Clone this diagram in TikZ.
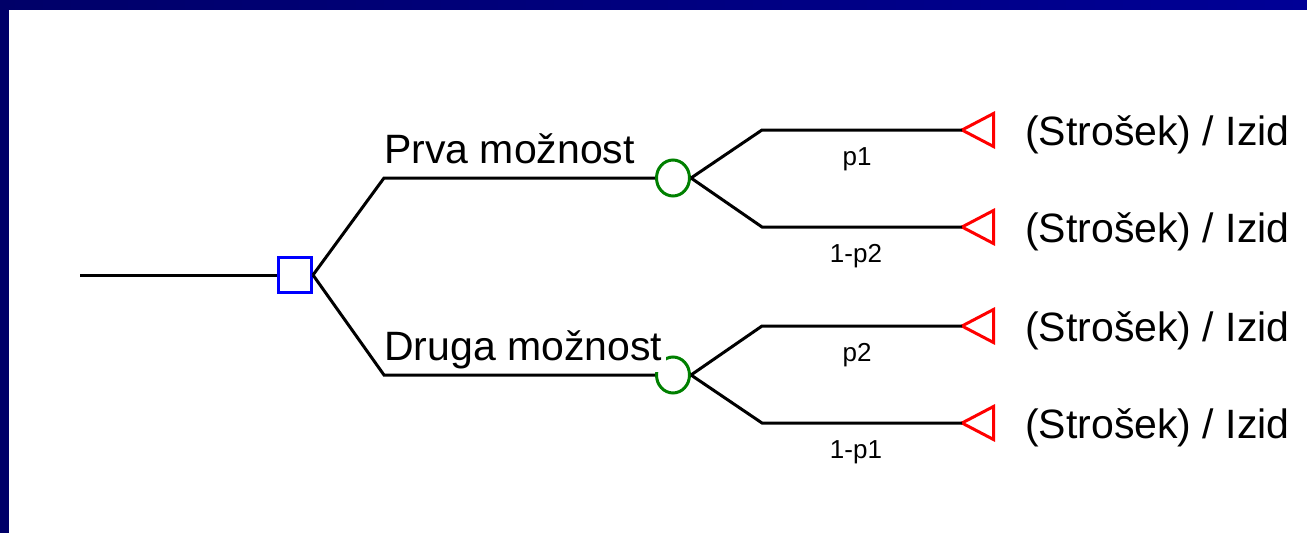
\documentclass[tikz,border=0pt]{standalone}
\usepackage{fontspec}
\setmainfont{Liberation Sans}
\usetikzlibrary{shapes.geometric}
\definecolor{barL}{RGB}{0,0,104}
\definecolor{barR}{RGB}{0,0,150}
\definecolor{dgreen}{RGB}{0,128,0}
\tikzset{
  conn/.style={draw=black, line width=3pt},
  decision/.style={draw=blue, line width=3pt, rectangle, minimum width=33pt, minimum height=35pt, inner sep=0pt},
  chance/.style={draw=dgreen, line width=3pt, ellipse, minimum width=33pt, minimum height=36pt, inner sep=0pt},
  term/.style={draw=red, line width=3pt, line join=miter},
  bigtxt/.style={font=\fontsize{41}{41}\selectfont, inner sep=0pt},
  smalltxt/.style={font=\fontsize{26}{26}\selectfont, inner sep=0pt},
}
\begin{document}
\begin{tikzpicture}[x=1pt, y=-1pt]
\useasboundingbox (0,0) rectangle (1307,533);
\fill[white] (0,0) rectangle (1307,533);
\shade[left color=barL, right color=barR] (0,0) rectangle (1307,9);
\fill[barL] (0,0) rectangle (9,533);

% nodes
\coordinate (start) at (80,275);
\node[decision] (d) at (295,275) {};
\node[chance] (c1) at (673,178) {};
\node[chance] (c2) at (673,375) {};

\coordinate (b1) at (384,178);
\coordinate (b2) at (384,375);
\coordinate (e1) at (762,130);
\coordinate (e2) at (762,227);
\coordinate (e3) at (762,326);
\coordinate (e4) at (762,423);
\coordinate (t1) at (962,130);
\coordinate (t2) at (962,227);
\coordinate (t3) at (962,326);
\coordinate (t4) at (962,423);

% terminal triangles
\foreach \t in {t1,t2,t3,t4}{
  \draw[term] (\t) -- ++(31.5,-16.5) -- ++(0,33) -- cycle;
}

% labels
\node[bigtxt, anchor=base west] (l1) at (384,163) {Prva možnost};
\node[bigtxt, anchor=base west, fill=white, inner xsep=4pt, inner ysep=3pt] (l2) at (380,360) {Druga možnost};

\node[smalltxt, anchor=base] (p1) at (857,165) {p1};
\node[smalltxt, anchor=base] (p2) at (856,262) {1-p2};
\node[smalltxt, anchor=base] (p3) at (857,361) {p2};
\node[smalltxt, anchor=base] (p4) at (856,458) {1-p1};

\node[bigtxt, anchor=base west] (o1) at (1025,145) {(Strošek) / Izid};
\node[bigtxt, anchor=base west] (o2) at (1025,242) {(Strošek) / Izid};
\node[bigtxt, anchor=base west] (o3) at (1025,341) {(Strošek) / Izid};
\node[bigtxt, anchor=base west] (o4) at (1025,438) {(Strošek) / Izid};

% connectors
\draw[conn] (start) -- (d.west);
\draw[conn] (d.east) -- (b1) -- (c1.west);
\draw[conn] (d.east) -- (b2) -- (c2.west);
\draw[conn] (c1.east) -- (e1) -- (t1);
\draw[conn] (c1.east) -- (e2) -- (t2);
\draw[conn] (c2.east) -- (e3) -- (t3);
\draw[conn] (c2.east) -- (e4) -- (t4);
\end{tikzpicture}
\end{document}
